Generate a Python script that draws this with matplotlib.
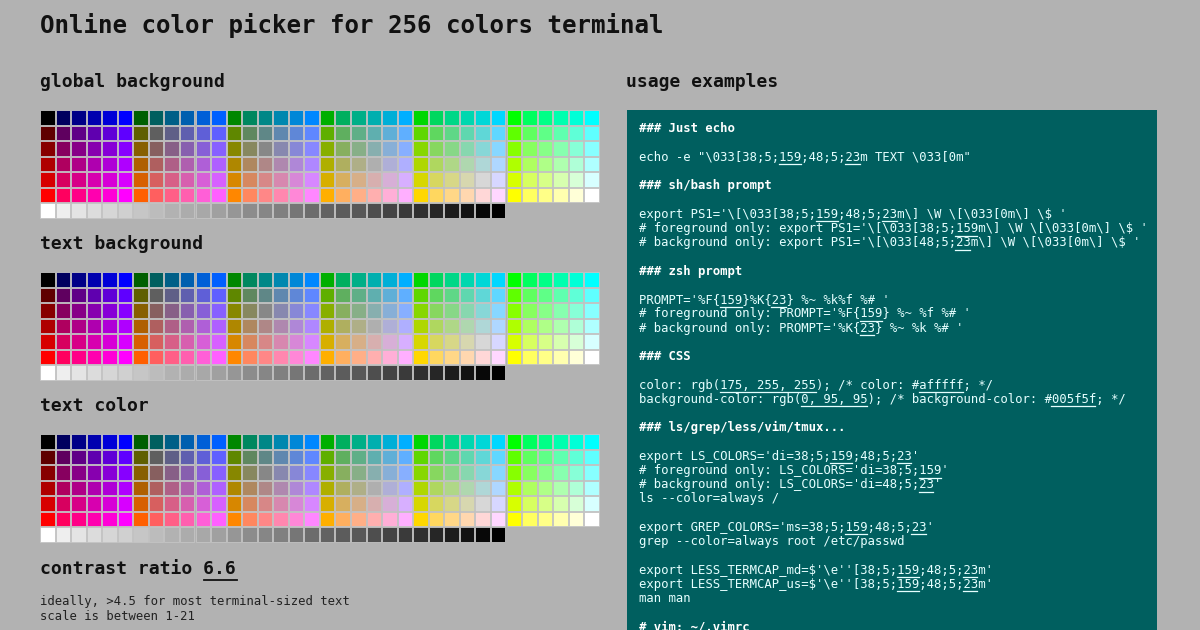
import matplotlib
matplotlib.use("Agg")
import matplotlib.pyplot as plt
from matplotlib.patches import Rectangle

cube_levels = [0x00, 0x5f, 0x87, 0xaf, 0xd7, 0xff]
gray_levels = [0xff, 0xee, 0xe4, 0xdc, 0xd6, 0xd0, 0xc6, 0xbc, 0xb2, 0xac, 0xa8, 0xa0,
               0x96, 0x8c, 0x86, 0x80, 0x76, 0x6c, 0x62, 0x5c, 0x58, 0x4e, 0x44, 0x3a,
               0x30, 0x26, 0x1c, 0x12, 0x08, 0x00]
section_titles = ["global background", "text background", "text color"]
section_y = [82, 244, 406]
contrast_value = "6.6"
code_lines = [
    ("### Just echo", True), ("", False),
    ("echo -e \"\\033[38;5;‹159›;48;5;‹23›m TEXT \\033[0m\"", False), ("", False),
    ("### sh/bash prompt", True), ("", False),
    ("export PS1='\\[\\033[38;5;‹159›;48;5;‹23›m\\] \\W \\[\\033[0m\\] \\$ '", False),
    ("# foreground only: export PS1='\\[\\033[38;5;‹159›m\\] \\W \\[\\033[0m\\] \\$ '", False),
    ("# background only: export PS1='\\[\\033[48;5;‹23›m\\] \\W \\[\\033[0m\\] \\$ '", False),
    ("", False),
    ("### zsh prompt", True), ("", False),
    ("PROMPT='%F{‹159›}%K{‹23›} %~ %k%f %# '", False),
    ("# foreground only: PROMPT='%F{‹159›} %~ %f %# '", False),
    ("# background only: PROMPT='%K{‹23›} %~ %k %# '", False),
    ("", False),
    ("### CSS", True), ("", False),
    ("color: rgb(‹175, 255, 255›); /* color: #‹afffff›; */", False),
    ("background-color: rgb(‹0, 95, 95›); /* background-color: #‹005f5f›; */", False),
    ("", False),
    ("### ls/grep/less/vim/tmux...", True), ("", False),
    ("export LS_COLORS='di=38;5;‹159›;48;5;‹23›'", False),
    ("# foreground only: LS_COLORS='di=38;5;‹159›'", False),
    ("# background only: LS_COLORS='di=48;5;‹23›'", False),
    ("ls --color=always /", False),
    ("", False),
    ("export GREP_COLORS='ms=38;5;‹159›;48;5;‹23›'", False),
    ("grep --color=always root /etc/passwd", False),
    ("", False),
    ("export LESS_TERMCAP_md=$'\\e''[38;5;‹159›;48;5;‹23›m'", False),
    ("export LESS_TERMCAP_us=$'\\e''[38;5;‹159›;48;5;‹23›m'", False),
    ("man man", False),
    ("", False),
    ("# vim: ~/.vimrc", True),
]

BG = "#b2b2b2"
MONO = "DejaVu Sans Mono"
fig = plt.figure(figsize=(12, 6.3), dpi=100, facecolor=BG)
ax = fig.add_axes([0, 0, 1, 1])
ax.set_xlim(0, 1200); ax.set_ylim(630, 0); ax.axis("off")
ax.set_facecolor(BG)

def hexc(r, g, b):
    return "#%02x%02x%02x" % (r, g, b)

def cell(x, y, c):
    ax.add_patch(Rectangle((x, y), 14.5, 14.5, facecolor=c, edgecolor="#c4c4c4", linewidth=0.6))

pitch = 15.55
for t, ty in zip(section_titles, section_y):
    ax.text(40, ty, t, fontsize=13, fontweight="bold", family=MONO, va="center", ha="left", color="#111111")
    gy = ty + 28
    for ri, r in enumerate(cube_levels):
        for gi, g in enumerate(cube_levels):
            for bi, b in enumerate(cube_levels):
                cell(40 + (gi * 6 + bi) * pitch, gy + ri * pitch, hexc(r, g, b))
    for i, v in enumerate(gray_levels):
        cell(40 + i * pitch, gy + 6 * pitch, hexc(v, v, v))

ax.text(40, 26, "Online color picker for 256 colors terminal", fontsize=17.4, fontweight="bold",
        family=MONO, va="center", color="#111111")
ax.text(626, 82, "usage examples", fontsize=13, fontweight="bold", family=MONO, va="center", color="#111111")

# contrast ratio
cw_big = 10.94
ax.text(40, 569, "contrast ratio " + contrast_value, fontsize=13, fontweight="bold", family=MONO,
        va="center", color="#111111")
ax.plot([40 + 15 * cw_big, 40 + 18 * cw_big], [580, 580], color="#111111", lw=1.3)
ax.text(40, 602, "ideally, >4.5 for most terminal-sized text", fontsize=8.8, family=MONO, va="center", color="#222222")
ax.text(40, 616, "scale is between 1-21", fontsize=8.8, family=MONO, va="center", color="#222222")

# code panel
ax.add_patch(Rectangle((627, 110), 530, 530, facecolor="#005f5f", edgecolor="none"))
fs = 8.8
cw = fs / 72 * 100 * 0.602
x0 = 639
for i, (line, bold) in enumerate(code_lines):
    y = 129 + i * 14.23
    plain = line.replace("‹", "").replace("›", "")
    if plain:
        ax.text(x0, y, plain, fontsize=fs, family=MONO, va="center", ha="left",
                color="#ffffff" if bold else "#e6ffff", fontweight="bold" if bold else "normal",
                parse_math=False)
    idx = 0; start = None
    for ch in line:
        if ch == "‹":
            start = idx
        elif ch == "›":
            ax.plot([x0 + start * cw, x0 + idx * cw], [y + 7, y + 7], color="#e6ffff", lw=0.9)
        else:
            idx += 1

fig.savefig("out.png", dpi=100, facecolor=BG)
